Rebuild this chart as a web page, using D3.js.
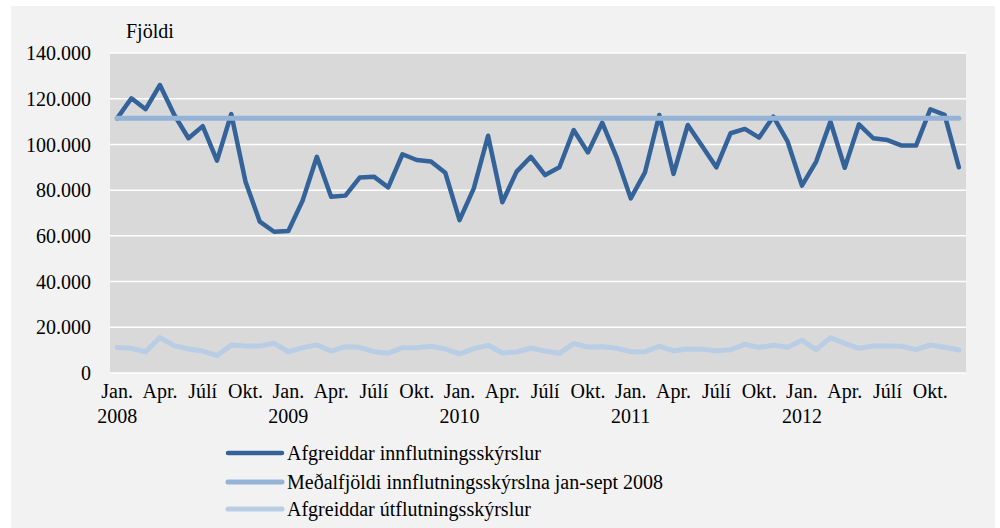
<!DOCTYPE html>
<html>
<head>
<meta charset="utf-8">
<script src="https://cdn.jsdelivr.net/npm/d3@7"></script>
<style>
  html, body { margin: 0; padding: 0; background: #ffffff; }
  svg { display: block; }
  text { font-family: "Liberation Serif", "Times New Roman", serif; fill: #000; }
</style>
</head>
<body>
<svg id="chart" width="1000" height="528"></svg>
<script>
// ---- Data ----
const monthNames = ["Jan.", "Feb.", "Mar.", "Apr.", "Maí", "Jún.", "Júlí", "Ág.", "Sep.", "Okt.", "Nóv.", "Des."];
const years = ["2008", "2009", "2010", "2011", "2012"];
const tickMonthLabels = ["Jan.", "Apr.", "Júlí", "Okt."];
const yTicks = [0, 20000, 40000, 60000, 80000, 100000, 120000, 140000];

const imports = [
  111400, 120200, 115400, 126000, 113000, 102700, 108000, 92900, 113300, 83700, 66200, 61800,
  62100, 75400, 94600, 77100, 77600, 85500, 85900, 81200, 95700, 93200, 92500, 87600,
  66900, 80800, 103800, 74700, 88100, 94600, 86600, 90000, 106300, 96500, 109500, 94600,
  76400, 87800, 112900, 87100, 108500, 99300, 90000, 104900, 106800, 103000, 112200, 101200,
  82000, 92500, 110000, 89800, 108800, 102700, 101900, 99500, 99500, 115400, 112900, 90000
];
const averageJanSept2008 = 111400;
const exportsData = [
  11200, 10800, 9300, 15500, 12000, 10500, 9600, 7600, 12300, 11800, 11800, 13000,
  9300, 11100, 12300, 9600, 11500, 11230, 9340, 8610, 11090, 11090, 11670, 10500,
  8320, 10650, 12110, 8750, 9190, 10940, 9630, 8610, 12830, 11380, 11520, 10790,
  9340, 9340, 11670, 9770, 10500, 10360, 9770, 10210, 12540, 11230, 12110, 11230,
  14290, 10210, 15460, 12980, 10790, 11810, 11810, 11670, 10210, 12250, 11230, 10070
];
const seriesNames = [
  "Afgreiddar innflutningsskýrslur",
  "Meðalfjöldi innflutningsskýrslna jan-sept 2008",
  "Afgreiddar útflutningsskýrslur"
];
const yAxisTitle = "Fjöldi";

// ---- Build categories ----
const categories = [];
years.forEach(y => monthNames.forEach((m, i) => categories.push({ key: y + "-" + (i + 1), month: m, year: y, mi: i })));

const colors = ["#34639a", "#95b3d7", "#b9cde5"];
const widths = [4.5, 5, 5];

const svg = d3.select("#chart");

// outer background
svg.append("rect").attr("x", 11).attr("y", 6).attr("width", 984).attr("height", 522).attr("fill", "#f2f2f2");

const plot = { left: 110, right: 966, top: 53, bottom: 373 };

const x = d3.scaleBand().domain(categories.map(d => d.key)).range([plot.left, plot.right]).padding(0);
const xc = k => x(k) + x.bandwidth() / 2;
const y = d3.scaleLinear().domain([0, 140000]).range([plot.bottom, plot.top]);

// plot area
svg.append("rect").attr("x", plot.left).attr("y", plot.top)
  .attr("width", plot.right - plot.left).attr("height", plot.bottom - plot.top).attr("fill", "#d9d9d9");

// gridlines
svg.append("g").selectAll("line").data(yTicks).join("line")
  .attr("x1", plot.left).attr("x2", plot.right)
  .attr("y1", d => y(d)).attr("y2", d => y(d))
  .attr("stroke", "#ffffff").attr("stroke-width", 1.5);

// y axis labels
const loc = d3.formatLocale({ decimal: ",", thousands: ".", grouping: [3], currency: ["", ""] });
const fmt = loc.format(",d");
const yAxis = d3.axisLeft(y).tickValues(yTicks).tickFormat(fmt).tickSize(0).tickPadding(0);
const gy = svg.append("g").attr("transform", "translate(91,0)").call(yAxis);
gy.select(".domain").remove();
gy.selectAll("text").style("font-family", "'Liberation Serif', serif").style("font-size", "20px").attr("fill", "#000").attr("dy", "0.33em");

// y axis title
svg.append("text").attr("x", 126).attr("y", 38).style("font-size", "20px").text(yAxisTitle);

// x axis
const tickKeys = categories.filter(d => tickMonthLabels.includes(d.month)).map(d => d.key);
const xAxis = d3.axisBottom(x).tickValues(tickKeys).tickSize(0).tickPadding(0).tickFormat("");
const gx = svg.append("g").attr("transform", "translate(0," + plot.bottom + ")").call(xAxis);
gx.select(".domain").remove();
const byKey = new Map(categories.map(d => [d.key, d]));
gx.selectAll(".tick").each(function (k) {
  const d = byKey.get(k);
  const g = d3.select(this);
  g.select("text").remove();
  g.append("text").attr("y", 25).attr("text-anchor", "middle").style("font-size", "20px").text(d.month);
  if (d.mi === 0) g.append("text").attr("y", 50).attr("text-anchor", "middle").style("font-size", "20px").text(d.year);
});

// lines
const line = d3.line().x(d => xc(d.key)).y(d => y(d.v));
const series = [
  categories.map((c, i) => ({ key: c.key, v: imports[i] })),
  categories.map((c) => ({ key: c.key, v: averageJanSept2008 })),
  categories.map((c, i) => ({ key: c.key, v: exportsData[i] }))
];
// draw order: exports, average, imports on top? Reference: average over imports
[2, 0, 1].forEach(si => {
  svg.append("path").datum(series[si]).attr("d", line)
    .attr("fill", "none").attr("stroke", colors[si]).attr("stroke-width", widths[si])
    .attr("stroke-linejoin", "round").attr("stroke-linecap", "round");
});

// legend
const legY = [453, 482, 509];
const leg = svg.append("g");
seriesNames.forEach((name, i) => {
  leg.append("line").attr("x1", 228).attr("x2", 282).attr("y1", legY[i]).attr("y2", legY[i])
    .attr("stroke", colors[i]).attr("stroke-width", widths[i]).attr("stroke-linecap", "round");
  leg.append("text").attr("x", 287).attr("y", legY[i]).attr("dy", "0.33em").style("font-size", "20px").text(name);
});
</script>
</body>
</html>
